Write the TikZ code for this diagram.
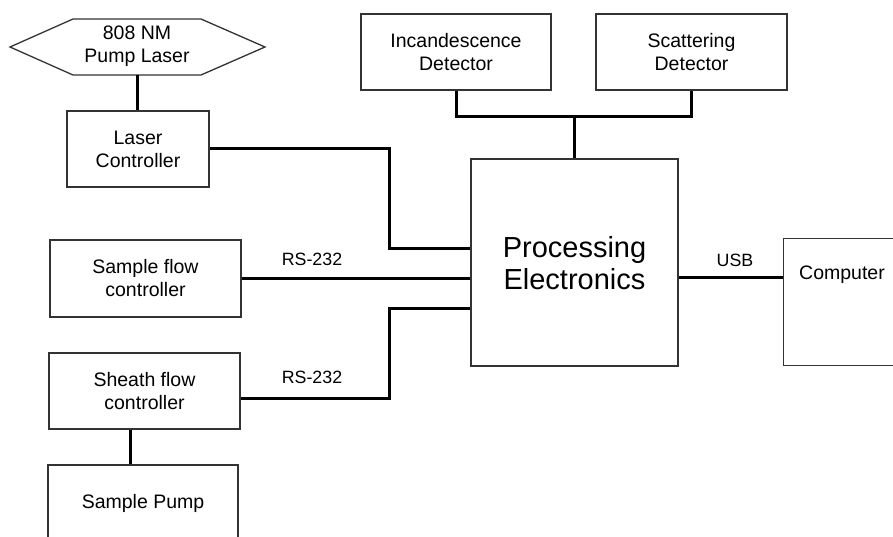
\documentclass[tikz,border=0pt]{standalone}
\usepackage{fontspec}
\setmainfont{Liberation Sans}
\definecolor{boxgray}{HTML}{333333}
\newcommand\boxfont{\fontsize{19.5}{23}\selectfont}
\newcommand\bigfont{\fontsize{29}{32}\selectfont}
\newcommand\lblfont{\fontsize{17.8}{20}\selectfont}
\begin{document}
\begin{tikzpicture}[x=1pt,y=-1pt,
  box/.style={draw=boxgray, line width=1.3pt, fill=white, align=center, font=\boxfont, inner sep=0pt},
  outline/.style={draw=boxgray, line width=1.3pt, line join=miter},
  wire/.style={line width=3pt, black},
  lbl/.style={font=\lblfont, inner sep=0pt}]
\useasboundingbox (0,0) rectangle (893,537);
\clip (0,0) rectangle (893,537);
\fill[white] (0,0) rectangle (893,537);

% hexagon pump laser
\node[align=center, font=\boxfont, minimum width=128pt, minimum height=56pt, inner sep=0pt] (pump) at (137,46) {808 NM\\Pump Laser};
\draw[outline] (10,47) -- (73,19) -- (201,19) -- (265,47) -- (201,75) -- (73,75) -- cycle;
\coordinate (pumpbot) at (137,75);

\node[box, minimum width=142pt, minimum height=76pt] (lc) at (138,149) {Laser\\Controller};
\node[box, minimum width=190pt, minimum height=76pt] (inc) at (456,52) {Incandescence\\Detector};
\node[box, minimum width=191pt, minimum height=76pt] (sca) at (691.5,52) {Scattering\\Detector};
\node[box, font=\bigfont, minimum width=207pt, minimum height=207pt, text depth=0pt] (pe) at (574.5,262.5) {Processing\\Electronics};
\node[box, minimum width=191pt, minimum height=77pt] (sfc) at (145.5,278.5) {Sample flow\\controller};
\node[box, minimum width=191pt, minimum height=76pt] (shc) at (144.5,391) {Sheath flow\\controller};
\node[box, minimum width=190pt, minimum height=76pt] (sp) at (143,503) {Sample Pump};
\node[box, anchor=north west, minimum width=220pt, minimum height=127pt] (comp) at (783,238) {};
\node[font=\boxfont, inner sep=0pt] (comptext) at (842,275) {Computer};

% coordinates
\coordinate (bus) at (574.5,117);
\coordinate (j1) at (389,248);
\coordinate (j2) at (389,308);
\coordinate (shy) at (0,398);
\coordinate (pv) at (130,0);
\coordinate (usby) at (0,277);

% connectors
\draw[wire] (pumpbot) -- (lc.north -| pumpbot);
\draw[wire] (inc.south) |- (bus) -| (sca.south);
\draw[wire] (bus) -- (pe.north);
\draw[wire] (lc.east) -| (j1) -- (j1 -| pe.west);
\draw[wire] (sfc.east) -- (sfc.east -| pe.west);
\draw[wire] (shc.east |- shy) -| (j2) -- (j2 -| pe.west);
\draw[wire] (shc.south -| pv) -- (sp.north -| pv);
\draw[wire] (pe.east |- usby) -- (comp.west |- usby);

% labels
\node[lbl] (rs1) at (312,259) {RS-232};
\node[lbl] (rs2) at (312,377) {RS-232};
\node[lbl] (usb) at (735,260) {USB};
\end{tikzpicture}
\end{document}
